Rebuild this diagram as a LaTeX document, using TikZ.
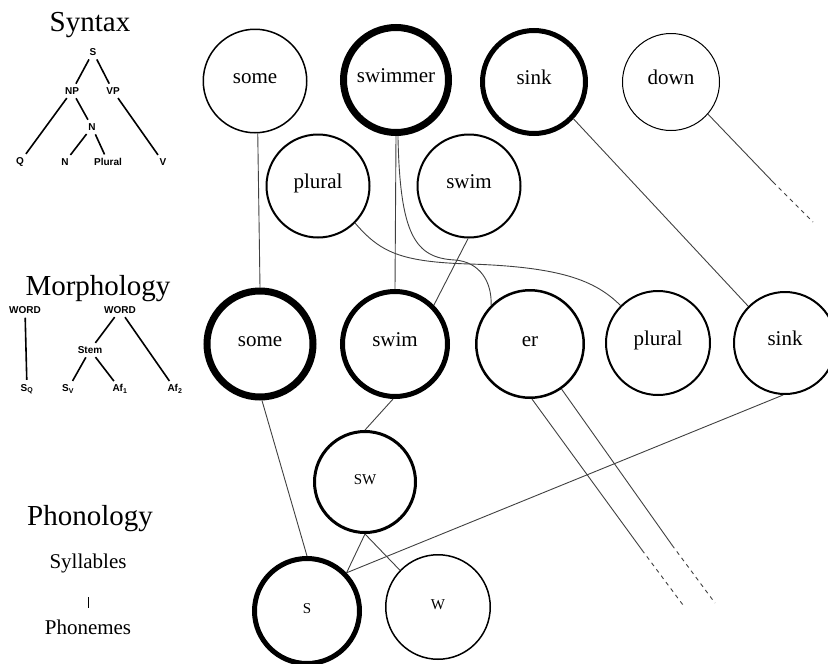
\documentclass[tikz,border=0pt]{standalone}
\usepackage{fontspec}
\setmainfont{Liberation Serif}
\newfontfamily\treefont{Liberation Sans}
\begin{document}
\begin{tikzpicture}[x=1pt,y=-1pt,
  word/.style={circle, draw, inner sep=0pt, minimum size=#1, font=\fontsize{21}{21}\selectfont, text height=1ex, text depth=0pt},
  conn/.style={draw=black!75, line width=0.9pt},
  dashconn/.style={draw=black!75, line width=0.9pt, dash pattern=on 4pt off 4pt},
  title/.style={font=\fontsize{29}{29}\selectfont, inner sep=1pt},
  sub/.style={font=\fontsize{21}{21}\selectfont},
  tl/.style={font=\treefont\bfseries\fontsize{10}{10}\selectfont, inner sep=1pt},
  tedge/.style={line width=1.6pt, shorten <=3pt, shorten >=3pt}
]
\path[use as bounding box] (0,0) rectangle (828,664);

% ---- left labels and trees
\node[title] (syntax) at (90,25) {Syntax};
\node[tl] (tS) at (93,52) {S};
\node[tl] (tNP) at (72,91) {NP};
\node[tl] (tVP) at (113,91) {VP};
\node[tl] (tN) at (92,127) {N};
\node[tl] (tQ) at (20,162) {Q};
\node[tl] (tN2) at (65,162) {N};
\node[tl] (tPl) at (108,162) {Plural};
\node[tl] (tV) at (163,162) {V};
\draw[tedge] (tS) -- (tNP);
\draw[tedge] (tS) -- (tVP);
\draw[tedge] (tNP) -- (tQ);
\draw[tedge] (tNP) -- (tN);
\draw[tedge] (tN) -- (tN2);
\draw[tedge] (tN) -- (tPl);
\draw[tedge] (tVP) -- (tV);

\node[title] (morph) at (98,289) {Morphology};
\node[tl] (w1) at (25,310) {WORD};
\node[tl] (w2) at (120,310) {WORD};
\node[tl] (stem) at (90,350) {Stem};
\node[tl] (sq) at (27,389) {S\textsubscript{Q}};
\node[tl] (sv) at (68,389) {S\textsubscript{V}};
\node[tl] (af1) at (120,389) {Af\textsubscript{1}};
\node[tl] (af2) at (175,389) {Af\textsubscript{2}};
\draw[tedge] (w1) -- (sq);
\draw[tedge] (w2) -- (stem);
\draw[tedge] (w2) -- (af2);
\draw[tedge] (stem) -- (sv);
\draw[tedge] (stem) -- (af1);

\node[title] (phon) at (90,519) {Phonology};
\node[sub] (syl) at (88,563) {Syllables};
\node[sub] (phm) at (88,627) {Phonemes};
\draw[line width=0.8pt, shorten <=21pt, shorten >=8.5pt] (syl.south) -- (phm.north);

% ---- word nodes
\node[word=103.5, line width=1.5pt] (tsome) at (255,81) {some};
\node[word=105, line width=7pt] (tswimmer) at (396,80) {swimmer};
\node[word=103, line width=5pt] (tsink) at (534,82) {sink};
\node[word=97, line width=1pt] (tdown) at (671,82) {down};
\node[word=103, line width=2pt] (tplural) at (318,186) {plural};
\node[word=103, line width=2pt] (tswim) at (469,186) {swim};

\node[word=106, line width=7pt] (msome) at (260,344) {some};
\node[word=105, line width=5pt] (mswim) at (395,344) {swim};
\node[word=107.5, line width=2.5pt] (mer) at (530,344) {er};
\node[word=104, line width=2pt] (mplural) at (658,343) {plural};
\node[word=102, line width=2pt] (msink) at (785,343) {sink};

\node[word=101, line width=3pt] (psw) at (365,482) {\fontsize{15}{15}\selectfont\MakeUppercase{sw}};
\node[word=105, line width=5pt] (ps) at (307,611) {\fontsize{15}{15}\selectfont\MakeUppercase{s}};
\node[word=104.5, line width=1.5pt] (pw) at (438,607) {\fontsize{15}{15}\selectfont\MakeUppercase{w}};

% ---- free ends
\coordinate (d1) at (773,182);
\coordinate (d2) at (813,222);
\coordinate (e1) at (642,550);
\coordinate (e2) at (683,605);
\coordinate (f1) at (672,545);
\coordinate (f2) at (715,603);

% ---- connectors
\draw[conn] (tsome.-87) -- (msome.90);
\draw[conn] (tswimmer.-90) -- (mswim.90);
\draw[conn] (tswimmer.-88) .. controls (400,235) and (415,258) .. (455,260)
                            .. controls (480,262) and (492,282) .. (mer.135);
\draw[conn] (tplural.-45) .. controls (380,252) and (400,262) .. (470,264)
                          .. controls (560,267) and (595,280) .. (mplural.135);
\draw[conn] (tswim.-91) -- (mswim.45);
\draw[conn] (tsink.-43) -- (msink.135);
\draw[conn] (tdown.-41) -- (d1);
\draw[dashconn] (d1) -- (d2);
\draw[conn] (mer.-88) -- (e1);
\draw[dashconn] (e1) -- (e2);
\draw[conn] (mer.-55) -- (f1);
\draw[dashconn] (f1) -- (f2);
\draw[conn] (msink.-92) -- (ps.44);
\draw[conn] (msome.-88) -- (ps.90);
\draw[conn] (mswim.-92) -- (psw.90);
\draw[conn] (psw.-90) -- (ps.44);
\draw[conn] (psw.-90) -- (pw.136);
\end{tikzpicture}
\end{document}
